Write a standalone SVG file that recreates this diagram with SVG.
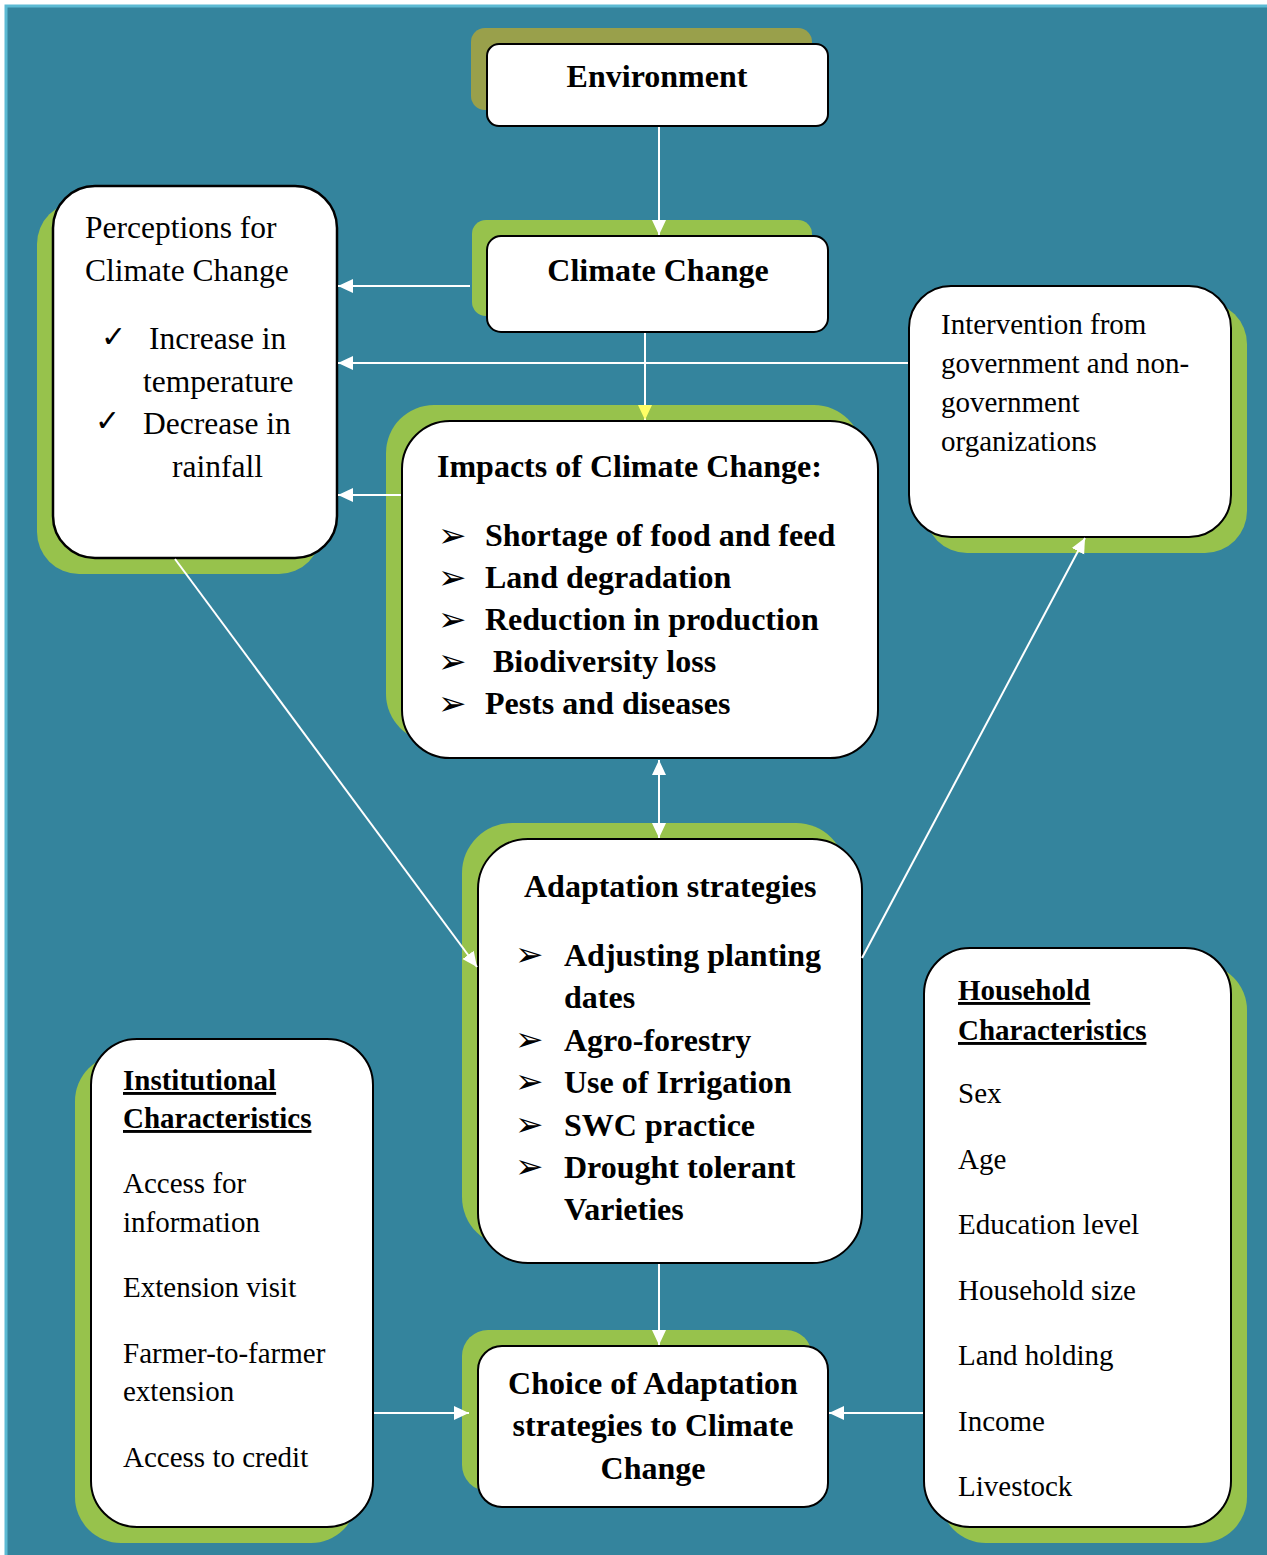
<svg xmlns="http://www.w3.org/2000/svg" width="1267" height="1555" viewBox="0 0 1267 1555">
<defs>
<style>
.bg{fill:#34849d;stroke:#5cbad3;stroke-width:3}
.sh{fill:#97c24c}
.sho{fill:#99a04b}
.box{fill:#ffffff;stroke:#000000;stroke-width:2}
.t{font-family:"Liberation Serif","Times New Roman",serif;fill:#000000}
.r32{font-size:31.5px}
.r29{font-size:29px}
.b32{font-size:32px;font-weight:bold}
.b29{font-size:29px;font-weight:bold}
.u{text-decoration:underline}
.sym{font-family:"DejaVu Sans",sans-serif;fill:#000000}
.ck{font-size:30px}
.bl{font-size:34px}
.c{fill:none;stroke:#ffffff;stroke-width:2}
</style>
<marker id="ah" markerUnits="userSpaceOnUse" markerWidth="16" markerHeight="16" viewBox="0 0 16 16" refX="15" refY="8" orient="auto">
<path d="M0,1 L15,8 L0,15 Z" fill="#ffffff"/>
</marker>
<marker id="as" markerUnits="userSpaceOnUse" markerWidth="16" markerHeight="16" viewBox="0 0 16 16" refX="1" refY="8" orient="auto">
<path d="M16,1 L1,8 L16,15 Z" fill="#ffffff"/>
</marker>
<marker id="ay" markerUnits="userSpaceOnUse" markerWidth="16" markerHeight="16" viewBox="0 0 16 16" refX="15" refY="8" orient="auto">
<path d="M0,1 L15,8 L0,15 Z" fill="#ffff66"/>
</marker>
</defs>
<rect x="0" y="0" width="1267" height="1555" fill="#ffffff"/>
<rect class="bg" x="6" y="6" width="1275" height="1565"/>

<g id="environment">
<rect class="sho" x="471" y="28" width="341" height="82" rx="14"/>
<rect class="box" x="487" y="44" width="341" height="82" rx="12"/>
<text class="t b32" x="657" y="87" text-anchor="middle">Environment</text>
</g>

<g id="climate-change">
<rect class="sh" x="472" y="220" width="340" height="96" rx="14"/>
<rect class="box" x="487" y="236" width="341" height="96" rx="14"/>
<text class="t b32" x="658" y="281" text-anchor="middle">Climate Change</text>
</g>

<g id="perceptions">
<rect class="sh" x="37" y="202" width="284" height="372" rx="42"/>
<rect class="box" x="53" y="186" width="284" height="372" rx="42" style="stroke-width:2.5"/>
<text class="t r32" x="85" y="238">Perceptions for</text>
<text class="t r32" x="85" y="281">Climate Change</text>
<text class="sym ck" x="101" y="347">✓</text>
<text class="t r32" x="149" y="349">Increase in</text>
<text class="t r32" x="143" y="392">temperature</text>
<text class="sym ck" x="95" y="431">✓</text>
<text class="t r32" x="143" y="434">Decrease in</text>
<text class="t r32" x="172" y="477">rainfall</text>
</g>

<g id="impacts">
<rect class="sh" x="386" y="405" width="476" height="337" rx="48"/>
<rect class="box" x="402" y="421" width="476" height="337" rx="48"/>
<text class="t b32" x="437" y="477">Impacts of Climate Change:</text>
<text class="sym bl" x="438" y="547">➢</text>
<text class="t b32" x="485" y="546">Shortage of food and feed</text>
<text class="sym bl" x="438" y="589">➢</text>
<text class="t b32" x="485" y="588">Land degradation</text>
<text class="sym bl" x="438" y="631">➢</text>
<text class="t b32" x="485" y="630">Reduction in production</text>
<text class="sym bl" x="438" y="673">➢</text>
<text class="t b32" x="493" y="672">Biodiversity loss</text>
<text class="sym bl" x="438" y="715">➢</text>
<text class="t b32" x="485" y="714">Pests and diseases</text>
</g>

<g id="intervention">
<rect class="sh" x="925" y="302" width="322" height="251" rx="42"/>
<rect class="box" x="909" y="286" width="322" height="251" rx="42"/>
<text class="t r29" x="941" y="334">Intervention from</text>
<text class="t r29" x="941" y="373">government and non-</text>
<text class="t r29" x="941" y="412">government</text>
<text class="t r29" x="941" y="451">organizations</text>
</g>

<g id="adaptation">
<rect class="sh" x="462" y="823" width="384" height="424" rx="50"/>
<rect class="box" x="478" y="839" width="384" height="424" rx="50"/>
<text class="t b32" x="524" y="897">Adaptation strategies</text>
<text class="sym bl" x="515" y="966">➢</text>
<text class="t b32" x="564" y="966">Adjusting planting</text>
<text class="t b32" x="564" y="1008">dates</text>
<text class="sym bl" x="515" y="1051">➢</text>
<text class="t b32" x="564" y="1051">Agro-forestry</text>
<text class="sym bl" x="515" y="1093">➢</text>
<text class="t b32" x="564" y="1093">Use of Irrigation</text>
<text class="sym bl" x="515" y="1136">➢</text>
<text class="t b32" x="564" y="1136">SWC practice</text>
<text class="sym bl" x="515" y="1178">➢</text>
<text class="t b32" x="564" y="1178">Drought tolerant</text>
<text class="t b32" x="564" y="1220">Varieties</text>
</g>

<g id="institutional">
<rect class="sh" x="75" y="1055" width="282" height="488" rx="46"/>
<rect class="box" x="91" y="1039" width="282" height="488" rx="46"/>
<text class="t b29 u" x="123" y="1090">Institutional</text>
<text class="t b29 u" x="123" y="1128">Characteristics</text>
<text class="t r29" x="123" y="1193">Access for</text>
<text class="t r29" x="123" y="1232">information</text>
<text class="t r29" x="123" y="1297">Extension visit</text>
<text class="t r29" x="123" y="1363">Farmer-to-farmer</text>
<text class="t r29" x="123" y="1401">extension</text>
<text class="t r29" x="123" y="1467">Access to credit</text>
</g>

<g id="household">
<rect class="sh" x="940" y="964" width="307" height="579" rx="46"/>
<rect class="box" x="924" y="948" width="307" height="579" rx="46"/>
<text class="t b29 u" x="958" y="1000">Household</text>
<text class="t b29 u" x="958" y="1040">Characteristics</text>
<text class="t r29" x="958" y="1103">Sex</text>
<text class="t r29" x="958" y="1169">Age</text>
<text class="t r29" x="958" y="1234">Education level</text>
<text class="t r29" x="958" y="1300">Household size</text>
<text class="t r29" x="958" y="1365">Land holding</text>
<text class="t r29" x="958" y="1431">Income</text>
<text class="t r29" x="958" y="1496">Livestock</text>
</g>

<g id="choice">
<rect class="sh" x="462" y="1330" width="350" height="161" rx="26"/>
<rect class="box" x="478" y="1346" width="350" height="161" rx="24"/>
<text class="t b32" x="653" y="1394" text-anchor="middle">Choice of Adaptation</text>
<text class="t b32" x="653" y="1436" text-anchor="middle">strategies to Climate</text>
<text class="t b32" x="653" y="1479" text-anchor="middle">Change</text>
</g>

<g id="connectors">
<line class="c" x1="659" y1="127" x2="659" y2="235" marker-end="url(#ah)"/>
<line class="c" x1="470" y1="286" x2="338" y2="286" marker-end="url(#ah)"/>
<line class="c" x1="908" y1="363" x2="338" y2="363" marker-end="url(#ah)"/>
<line class="c" x1="645" y1="333" x2="645" y2="420" marker-end="url(#ay)"/>
<line class="c" x1="401" y1="495" x2="338" y2="495" marker-end="url(#ah)"/>
<line class="c" x1="659" y1="760" x2="659" y2="838" marker-start="url(#as)" marker-end="url(#ah)"/>
<line class="c" x1="175" y1="559" x2="477" y2="967" marker-end="url(#ah)"/>
<line class="c" x1="862" y1="958" x2="1085" y2="538" marker-end="url(#ah)"/>
<line class="c" x1="659" y1="1264" x2="659" y2="1345" marker-end="url(#ah)"/>
<line class="c" x1="374" y1="1413" x2="469" y2="1413" marker-end="url(#ah)"/>
<line class="c" x1="923" y1="1413" x2="829" y2="1413" marker-end="url(#ah)"/>
</g>
</svg>
